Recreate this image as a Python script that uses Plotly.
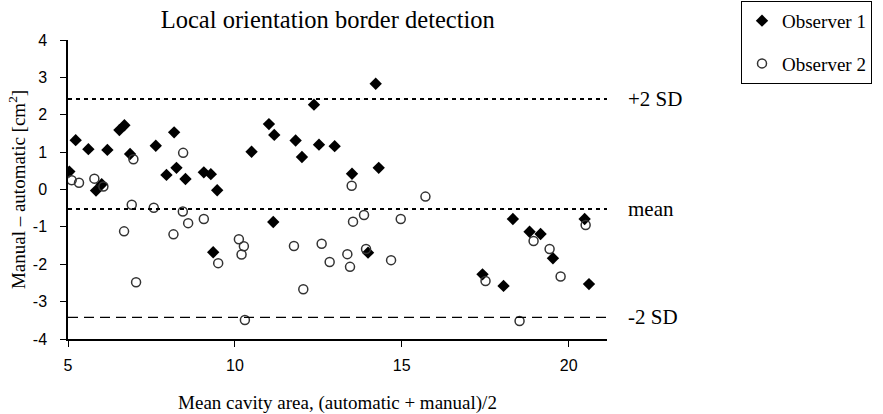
import plotly.graph_objects as go

# Observer 1 (filled diamonds)
obs1_x = [5.04, 5.23, 5.61, 5.84, 6.01, 6.18, 6.54, 6.69, 6.86, 7.63,
          7.95, 8.18, 8.25, 8.52, 9.07, 9.28, 9.47, 9.35, 10.50, 11.02,
          11.18, 11.15, 11.82, 12.01, 12.37, 12.52, 12.99, 13.51, 13.99, 14.22,
          14.31, 17.42, 18.05, 18.33, 18.83, 19.16, 19.53, 20.48, 20.61]
obs1_y = [0.48, 1.32, 1.08, -0.03, 0.14, 1.06, 1.59, 1.72, 0.95, 1.17,
          0.39, 1.53, 0.58, 0.28, 0.46, 0.41, -0.02, -1.68, 1.01, 1.75,
          1.46, -0.87, 1.31, 0.87, 2.27, 1.20, 1.16, 0.42, -1.69, 2.83,
          0.58, -2.27, -2.58, -0.79, -1.13, -1.19, -1.84, -0.79, -2.53]

# Observer 2 (open circles)
obs2_x = [5.11, 5.33, 5.79, 6.06, 6.96, 8.45, 6.91, 7.57, 8.44, 9.07,
          8.60, 6.68, 8.16, 7.04, 9.50, 10.12, 10.27, 10.20, 10.30, 11.77,
          12.05, 12.60, 12.84, 13.37, 13.45, 13.54, 13.87, 13.93, 14.68, 14.97,
          13.50, 15.71, 17.51, 18.95, 19.43, 19.76, 20.51, 18.53]
obs2_y = [0.25, 0.18, 0.29, 0.08, 0.81, 0.98, -0.41, -0.49, -0.59, -0.79,
          -0.90, -1.12, -1.20, -2.48, -1.97, -1.33, -1.52, -1.74, -3.49, -1.51,
          -2.67, -1.45, -1.94, -1.73, -2.07, -0.86, -0.68, -1.59, -1.89, -0.79,
          0.10, -0.19, -2.45, -1.38, -1.59, -2.33, -0.95, -3.52]

# Limits of agreement
upper_sd = 2.42
mean_diff = -0.52
lower_sd = -3.42
limit_labels = ["+2 SD", "mean", "-2 SD"]

y_ticks = [4, 3, 2, 1, 0, -1, -2, -3, -4]
y_ticktext = [str(v) for v in y_ticks]
x_ticks = [5, 10, 15, 20]

serif = "Liberation Serif, Times New Roman, serif"
sans = "Liberation Sans, Arial, sans-serif"

fig = go.Figure()
fig.add_trace(go.Scatter(
    x=obs1_x, y=obs1_y, mode="markers", name="Observer 1",
    legendgroup="o1",
    marker=dict(symbol="diamond", size=9.5, color="black",
                line=dict(width=0))))
fig.add_trace(go.Scatter(
    x=obs2_x, y=obs2_y, mode="markers", name="Observer 2",
    legendgroup="o2",
    marker=dict(symbol="circle-open", size=9, color="#333333",
                line=dict(width=1.5, color="#333333"))))

# limit lines
for val, dash, w in [(upper_sd, "dot", 2), (mean_diff, "dot", 2), (lower_sd, "dash", 1.2)]:
    fig.add_shape(type="line", xref="paper", x0=0, x1=1, yref="y", y0=val, y1=val,
                  line=dict(color="black", width=w,
                            dash="4px,4px" if dash == "dot" else "10px,6px"))

for val, lab in zip([upper_sd, mean_diff, lower_sd], limit_labels):
    fig.add_annotation(xref="paper", x=1.035, xanchor="left", yref="y", y=val,
                       yanchor="middle", text=lab, showarrow=False,
                       font=dict(family=serif, size=21, color="black"))

fig.update_layout(
    width=883, height=414,
    margin=dict(l=68, r=276, t=40, b=75),
    paper_bgcolor="white", plot_bgcolor="white",
    title=dict(text="Local orientation border detection", x=0.482, xref="paper",
               xanchor="center",
               y=0.952, yref="container", yanchor="middle",
               font=dict(family=serif, size=24.5, color="black")),
    showlegend=True,
    legend=dict(x=741 / 883, y=0.998, xref="container", yref="container",
                xanchor="left", yanchor="top",
                bordercolor="black", borderwidth=1, bgcolor="white",
                font=dict(family=serif, size=19, color="black"),
                tracegroupgap=15, traceorder="grouped", itemwidth=30),
    xaxis=dict(range=[5, 21.15], tickvals=x_ticks, showgrid=False, zeroline=False,
               automargin=False,
               showline=True, linecolor="black", linewidth=1.5,
               ticks="outside", ticklen=6, tickcolor="black",
               ticklabelstandoff=5,
               tickfont=dict(family=sans, size=16, color="black"),
               title=dict(text="Mean cavity area, (automatic + manual)/2",
                          font=dict(family=serif, size=19, color="black"),
                          standoff=25)),
    yaxis=dict(range=[-4, 4], tickvals=y_ticks, ticktext=y_ticktext,
               showgrid=False, zeroline=False, automargin=False,
               showline=True, linecolor="black", linewidth=1.5,
               ticks="outside", ticklen=6, tickcolor="black",
               ticklabelstandoff=10,
               tickfont=dict(family=sans, size=16, color="black"),
               title=dict(text="Manual – automatic [cm<sup>2</sup>]",
                          font=dict(family=serif, size=19, color="black"),
                          standoff=2)),
)

fig.write_html("out.html",
               config={"displayModeBar": False},
               post_script="document.body.style.margin='0';document.body.style.overflow='hidden';")
